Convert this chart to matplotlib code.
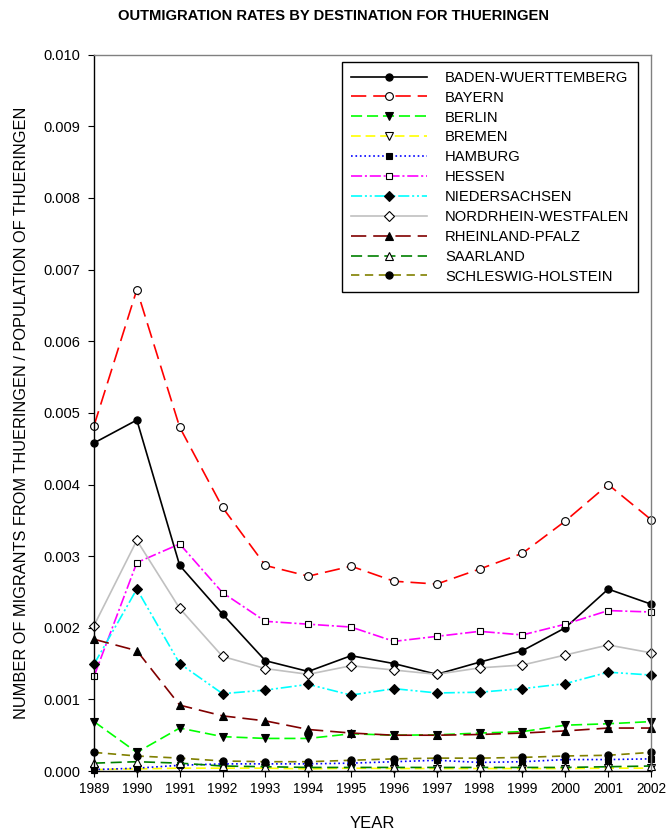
import matplotlib
matplotlib.use("Agg")
import matplotlib.pyplot as plt
import numpy as np

plt.rcParams['font.family'] = ['Liberation Sans', 'DejaVu Sans']
plt.rcParams['lines.scale_dashes'] = False

years = list(range(1989, 2003))

# values in units of 0.001 (migrants / population)
baden_wuerttemberg = [4.58, 4.90, 2.87, 2.19, 1.54, 1.39, 1.61, 1.50, 1.35, 1.52, 1.68, 2.00, 2.54, 2.33]
bayern = [4.82, 6.72, 4.80, 3.68, 2.87, 2.72, 2.86, 2.65, 2.61, 2.82, 3.04, 3.49, 4.00, 3.51]
berlin = [0.69, 0.26, 0.60, 0.48, 0.455, 0.455, 0.52, 0.50, 0.505, 0.53, 0.55, 0.64, 0.66, 0.69]
bremen = [0.02, 0.03, 0.04, 0.04, 0.04, 0.03, 0.04, 0.035, 0.035, 0.035, 0.035, 0.035, 0.04, 0.04]
hamburg = [0.02, 0.04, 0.08, 0.10, 0.10, 0.10, 0.11, 0.13, 0.15, 0.12, 0.13, 0.16, 0.16, 0.17]
hessen = [1.32, 2.91, 3.17, 2.49, 2.09, 2.05, 2.01, 1.81, 1.88, 1.95, 1.90, 2.05, 2.24, 2.22]
niedersachsen = [1.49, 2.54, 1.50, 1.08, 1.13, 1.21, 1.06, 1.15, 1.09, 1.10, 1.15, 1.22, 1.38, 1.34]
nordrhein_westfalen = [2.03, 3.22, 2.27, 1.60, 1.43, 1.35, 1.47, 1.41, 1.35, 1.44, 1.48, 1.62, 1.76, 1.65]
rheinland_pfalz = [1.84, 1.68, 0.92, 0.77, 0.70, 0.58, 0.53, 0.50, 0.50, 0.51, 0.53, 0.56, 0.60, 0.60]
saarland = [0.11, 0.13, 0.11, 0.07, 0.06, 0.05, 0.05, 0.05, 0.05, 0.05, 0.05, 0.05, 0.06, 0.07]
schleswig_holstein = [0.26, 0.21, 0.18, 0.14, 0.13, 0.13, 0.15, 0.17, 0.18, 0.18, 0.19, 0.21, 0.22, 0.26]

series = [
    ("BADEN-WUERTTEMBERG", baden_wuerttemberg, "black", "-", "o", "black", 5.2),
    ("BAYERN", bayern, "#FF0000", (0, (11, 5)), "o", "white", 5.6),
    ("BERLIN", berlin, "#00FF00", (0, (8, 3.5)), "v", "black", 5.6),
    ("BREMEN", bremen, "#FFFF00", (0, (7, 3.5)), "v", "white", 5.6),
    ("HAMBURG", hamburg, "#0000FF", (0, (1.2, 2)), "s", "black", 4.8),
    ("HESSEN", hessen, "#FF00FF", (0, (8, 2, 1.5, 2)), "s", "white", 4.8),
    ("NIEDERSACHSEN", niedersachsen, "#00FFFF", (0, (8, 2, 1.5, 2, 1.5, 2)), "D", "black", 4.8),
    ("NORDRHEIN-WESTFALEN", nordrhein_westfalen, "#C0C0C0", "-", "D", "white", 4.8),
    ("RHEINLAND-PFALZ", rheinland_pfalz, "#800000", (0, (11, 5)), "^", "black", 5.6),
    ("SAARLAND", saarland, "#008000", (0, (8, 4)), "^", "white", 5.6),
    ("SCHLESWIG-HOLSTEIN", schleswig_holstein, "#808000", (0, (6, 4)), "o", "black", 5.2),
]

fig = plt.figure(figsize=(6.68, 8.33), dpi=100)
ax = fig.add_axes([0.1407, 0.0744, 0.9746 - 0.1407, 0.9343 - 0.0744])

for name, vals, color, ls, mk, mfc, ms in series:
    ax.plot(years, np.array(vals) / 1000.0, color=color, linestyle=ls, linewidth=1.2,
            marker=mk, markerfacecolor=mfc, markeredgecolor="black",
            markeredgewidth=0.8, markersize=ms, label=name, clip_on=False)

ax.set_xlim(1989, 2002)
ax.set_ylim(0, 0.010)
ax.set_xticks(years)
ax.set_yticks(np.arange(0, 0.0101, 0.001))
ax.set_yticklabels([f"{v:.3f}" for v in np.arange(0, 0.0101, 0.001)])
ax.tick_params(axis="both", direction="out", length=4, width=0.8)
ax.tick_params(axis="y", labelsize=10.5, pad=6)
ax.tick_params(axis="x", labelsize=9.8, pad=4)

for s in ["left", "bottom"]:
    ax.spines[s].set_color("black")
    ax.spines[s].set_linewidth(1.0)
for s in ["top", "right"]:
    ax.spines[s].set_color("#808080")
    ax.spines[s].set_linewidth(1.0)

ax.set_xlabel("YEAR", fontsize=12, labelpad=14)
ax.set_ylabel("NUMBER OF MIGRANTS FROM THUERINGEN / POPULATION OF THUERINGEN", fontsize=11.8, labelpad=10)
fig.text(0.5, 0.989, "OUTMIGRATION RATES BY DESTINATION FOR THUERINGEN",
         ha="center", va="top", fontsize=10.6, fontweight="bold")

leg = ax.legend(loc="upper right", bbox_to_anchor=(0.977, 0.99), borderaxespad=0,
                fontsize=10.6, handlelength=5.2, handletextpad=1.2, labelspacing=0.4,
                fancybox=False, framealpha=1, edgecolor="black", borderpad=0.6, numpoints=1)
leg.get_frame().set_linewidth(1.0)

fig.savefig("out.png", dpi=100)
